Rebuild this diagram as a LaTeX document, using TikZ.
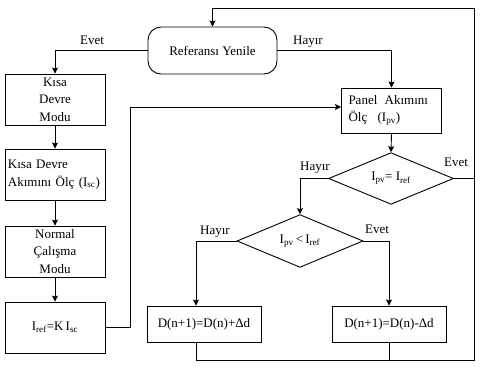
\documentclass[tikz,border=0pt]{standalone}
\usepackage{fontspec}
\setmainfont{Liberation Serif}
\usetikzlibrary{shapes.geometric,arrows.meta,calc}
\tikzset{
  base/.style={draw=black,line width=0.9pt,inner sep=0pt,font=\fontsize{13}{17.5}\selectfont},
  box/.style={base,rectangle,minimum width=100pt,minimum height=51pt},
  rbox/.style={base,rectangle,rounded corners=13pt,minimum width=129pt,minimum height=47pt},
  dec/.style={base,diamond,minimum width=125pt,minimum height=47pt},
  res/.style={base,rectangle,minimum width=114pt,minimum height=36pt},
  lbl/.style={inner sep=0pt,font=\fontsize{13}{15}\selectfont},
  arr/.style={line width=0.9pt,-{Stealth[length=6pt,width=6pt,inset=1pt]}},
  ln/.style={line width=0.9pt}
}
\newcommand{\sbs}[1]{\textsubscript{#1}}
\begin{document}
\begin{tikzpicture}[x=1pt,y=-1pt]
\useasboundingbox[fill=white] (0,0) rectangle (480,367);
\node[rbox] (ref) at (212.5,50.5) {Referansı Yenile};
\node[box,align=center] (kdm) at (55,99.5) {Kısa\\Devre\\Modu};
\node[box,align=left,text width=94pt] (kda) at (55,174.5) {Kısa Devre\\Akımını Ölç (I\sbs{sc})};
\node[box,align=center] (ncm) at (55,251.5) {Normal\\Çalışma\\Modu};
\node[box] (iref) at (55,327.5) {I\sbs{ref}=K\,I\sbs{sc}};
\node[box,minimum height=45pt,align=left,text width=86pt] (panel) at (391.5,110.5) {Panel\hspace{3pt} Akımını\\Ölç\hspace{6pt} (I\sbs{pv})};
\node[dec] (d1) at (391,178.5) {I\sbs{pv}= I\sbs{ref}};
\node[dec,minimum width=126pt] (d2) at (300,241) {I\sbs{pv}\,<\,I\sbs{ref}};
\node[res] (dp) at (204,324) {D(n+1)=D(n)+Δd};
\node[res] (dm) at (389,324) {D(n+1)=D(n)-Δd};
\coordinate (br) at (474,360);
\coordinate (tr) at (474,8);
\coordinate (jog) at (130,107);
% connectors
\draw[arr] (ref.west) -| (kdm.north);
\draw[arr] (ref.east) -| (panel.north);
\draw[arr] (kdm) -- (kda);
\draw[arr] (kda) -- (ncm);
\draw[arr] (ncm) -- (iref);
\draw[arr] (iref.east) -| (jog) -- (jog -| panel.west);
\draw[arr] (panel.south) -- (d1.north);
\draw[ln] (d1.east) -- (d1.east -| br);
\draw[arr] (d1.west) -| (d2.north);
\draw[arr] (d2.east) -| (dm.north);
\draw[arr] (d2.west) -| ([xshift=-8pt]dp.north);
\draw[ln] (dm.south) -- (dm.south |- br);
\draw[arr] ([xshift=-8pt]dp.south) |- (br) -- (tr) -| (ref.north);
% labels
\node[lbl] (l1) at (92,40) {Evet};
\node[lbl] (l2) at (308,42) {Hayır};
\node[lbl] (l3) at (315,168) {Hayır};
\node[lbl] (l4) at (456,162) {Evet};
\node[lbl] (l5) at (377,229) {Evet};
\node[lbl] (l6) at (215,232) {Hayır};
\end{tikzpicture}
\end{document}
